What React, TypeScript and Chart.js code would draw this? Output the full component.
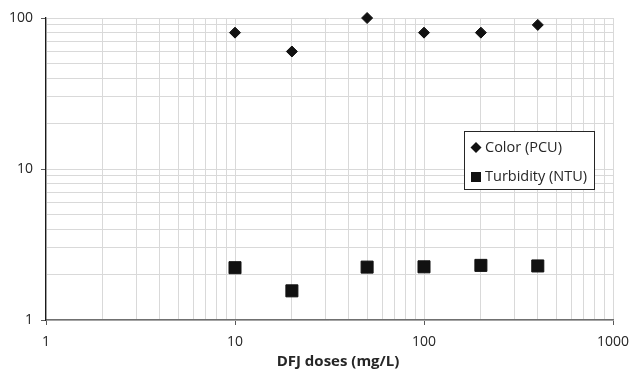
import React, { useEffect, useRef } from "react";
import { Chart, registerables } from "chart.js";

Chart.register(...registerables);

const doses = [10, 20, 50, 100, 200, 400];
const colorPCU = [80, 60, 100, 80, 80, 90];
const turbidityNTU = [2.22, 1.56, 2.24, 2.25, 2.3, 2.28];
const xMajor = [1, 10, 100, 1000];
const yMajor = [1, 10, 100];
const seriesLabels = ["Color (PCU)", "Turbidity (NTU)"];
const xTitle = "DFJ doses (mg/L)";

const FONT = "'Open Sans', sans-serif";

function logTicks(majors: number[]) {
  const out: { value: number }[] = [];
  for (let i = 0; i < majors.length; i++) {
    const m = majors[i];
    if (i === majors.length - 1) {
      out.push({ value: m });
    } else {
      for (let k = 1; k <= 9; k++) out.push({ value: m * k });
    }
  }
  return out;
}

const overlayPlugin = {
  id: "overlay",
  afterDraw(chart: any) {
    const ctx = chart.ctx;
    ctx.save();
    // legend
    const lx = 464, ly = 131, lw = 130, lh = 58;
    ctx.fillStyle = "#ffffff";
    ctx.fillRect(lx, ly, lw, lh);
    ctx.strokeStyle = "#262626";
    ctx.lineWidth = 1;
    ctx.strokeRect(lx + 0.5, ly + 0.5, lw, lh);
    ctx.fillStyle = "#111111";
    // diamond
    const dx = 476, dy = 147.5, r = 5.5;
    ctx.beginPath();
    ctx.moveTo(dx, dy - r);
    ctx.lineTo(dx + r, dy);
    ctx.lineTo(dx, dy + r);
    ctx.lineTo(dx - r, dy);
    ctx.closePath();
    ctx.fill();
    // square
    ctx.fillRect(471, 172, 10, 10);
    ctx.fillStyle = "#262626";
    ctx.font = `14.5px ${FONT}`;
    ctx.textBaseline = "middle";
    ctx.textAlign = "left";
    ctx.fillText(seriesLabels[0], 485, dy);
    ctx.fillText(seriesLabels[1], 485, 177);
    // x title
    ctx.font = `bold 15px ${FONT}`;
    ctx.textAlign = "center";
    ctx.fillText(xTitle, 338, 362);
    ctx.restore();
  },
};

export default function App() {
  const ref = useRef<HTMLCanvasElement>(null);
  useEffect(() => {
    document.body.style.margin = "0";
    const canvas = ref.current!;
    const chart = new Chart(canvas, {
      type: "scatter",
      data: {
        datasets: [
          {
            label: seriesLabels[0],
            data: doses.map((d, i) => ({ x: d, y: colorPCU[i] })),
            pointStyle: "rectRot",
            pointRadius: 5.5,
            backgroundColor: "#111111",
            borderColor: "#111111",
            borderWidth: 1,
            clip: false as any,
          },
          {
            label: seriesLabels[1],
            data: doses.map((d, i) => ({ x: d, y: turbidityNTU[i] })),
            pointStyle: "rect",
            pointRadius: 8.5,
            backgroundColor: "#111111",
            borderColor: "#111111",
            borderWidth: 1,
            clip: false as any,
          },
        ],
      },
      options: {
        animation: false,
        responsive: true,
        maintainAspectRatio: false,
        layout: { padding: { left: 0, right: 17, top: 18, bottom: 0 } },
        plugins: { legend: { display: false }, tooltip: { enabled: false } },
        scales: {
          x: {
            type: "logarithmic",
            min: 1,
            max: 1000,
            afterBuildTicks: (scale: any) => {
              scale.ticks = logTicks(xMajor);
            },
            afterFit: (scale: any) => {
              scale.height = 53;
              scale.paddingLeft = 0;
              scale.paddingRight = 0;
            },
            grid: {
              color: "#d9d9d9",
              lineWidth: 1,
              tickLength: 5,
              tickColor: (c: any) =>
                c.tick && xMajor.includes(c.tick.value) ? "#595959" : "rgba(0,0,0,0)",
            },
            border: { color: "#707070", width: 1.6 },
            ticks: {
              autoSkip: false,
              maxRotation: 0,
              padding: 9,
              color: "#262626",
              font: { family: FONT, size: 14 },
              callback: (v: any) => (xMajor.includes(Number(v)) ? String(v) : ""),
            },
          },
          y: {
            type: "logarithmic",
            min: 1,
            max: 100,
            afterBuildTicks: (scale: any) => {
              scale.ticks = logTicks(yMajor);
            },
            afterFit: (scale: any) => {
              scale.width = 46;
              scale.paddingTop = 0;
              scale.paddingBottom = 0;
            },
            grid: {
              color: "#d9d9d9",
              lineWidth: 1,
              tickLength: 5,
              tickColor: (c: any) =>
                c.tick && yMajor.includes(c.tick.value) ? "#595959" : "rgba(0,0,0,0)",
            },
            border: { color: "#1a1a1a", width: 1.3 },
            ticks: {
              autoSkip: false,
              padding: 8,
              color: "#262626",
              font: { family: FONT, size: 14 },
              callback: (v: any) => (yMajor.includes(Number(v)) ? String(v) : ""),
            },
          },
        },
      },
      plugins: [overlayPlugin],
    });
    return () => chart.destroy();
  }, []);
  return (
    <div style={{ position: "fixed", left: 0, top: 0, width: 630, height: 373 }}>
      <canvas ref={ref} />
    </div>
  );
}
